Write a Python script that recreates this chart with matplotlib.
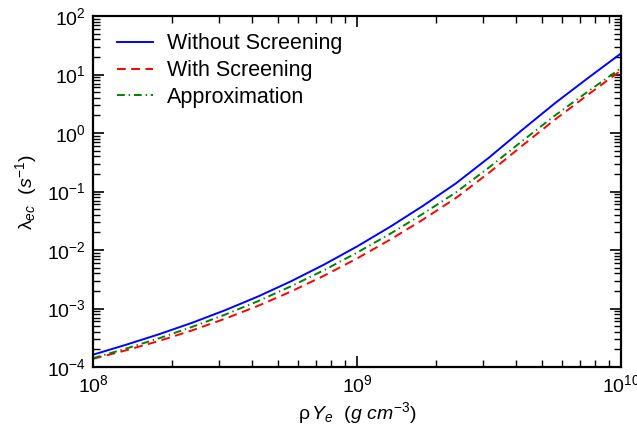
import numpy as np
import matplotlib.pyplot as plt
from matplotlib.ticker import LogLocator, NullFormatter

plt.rcParams['font.family'] = ['Liberation Sans', 'DejaVu Sans']
plt.rcParams['mathtext.fontset'] = 'custom'
plt.rcParams['mathtext.rm'] = 'Liberation Sans'
plt.rcParams['mathtext.it'] = 'Liberation Sans:italic'

# log10 of density rho*Ye (g cm^-3)
log_rho = [8.0, 8.125, 8.25, 8.375, 8.5, 8.625, 8.75, 8.875, 9.0,
           9.125, 9.25, 9.375, 9.5, 9.625, 9.75, 9.875, 10.0]
# log10 of electron capture rate (s^-1)
log_no_screen = [-3.79, -3.62, -3.44, -3.245, -3.03, -2.795, -2.535, -2.25, -1.94,
                 -1.605, -1.245, -0.86, -0.42, 0.05, 0.51, 0.94, 1.36]
log_screen = [-3.86, -3.715, -3.555, -3.375, -3.175, -2.955, -2.71, -2.44, -2.145,
              -1.825, -1.48, -1.11, -0.68, -0.22, 0.23, 0.655, 1.07]
log_approx = [-3.85, -3.685, -3.51, -3.315, -3.105, -2.875, -2.62, -2.345, -2.045,
              -1.725, -1.38, -1.015, -0.59, -0.14, 0.30, 0.71, 1.11]

rho = 10 ** np.array(log_rho)
lam_no = 10 ** np.array(log_no_screen)
lam_scr = 10 ** np.array(log_screen)
lam_app = 10 ** np.array(log_approx)

fig = plt.figure(figsize=(6.37, 4.33), dpi=100)
ax = fig.add_axes([93 / 637, 1 - 367 / 433, 528 / 637, 351 / 433])

ax.loglog(rho, lam_no, color='blue', lw=1.4, label='Without Screening')
ax.loglog(rho, lam_scr, color='red', lw=1.4, ls=(0, (4.5, 2.8)), label='With Screening')
ax.loglog(rho, lam_app, color='green', lw=1.4, ls=(0, (4, 2, 0.7, 2)), label='Approximation')

ax.set_xlim(1e8, 1e10)
ax.set_ylim(1e-4, 1e2)
ax.yaxis.set_major_locator(LogLocator(base=10, numticks=10))
ax.yaxis.set_minor_locator(LogLocator(base=10, subs=np.arange(2, 10), numticks=10))
ax.yaxis.set_minor_formatter(NullFormatter())
ax.xaxis.set_minor_formatter(NullFormatter())

ax.tick_params(which='both', direction='in', top=True, right=True, labelsize=14)
ax.tick_params(which='major', length=8, width=1.2, pad=5)
ax.tick_params(which='minor', length=5, width=1.0)
for s in ax.spines.values():
    s.set_linewidth(1.6)

ax.set_xlabel(r'$\mathrm{\rho}\,Y_e$  $(g\ cm^{-3})$', fontsize=14, labelpad=3)
ax.set_ylabel(r'$\mathrm{\lambda}_{ec}$  $(s^{-1})$', fontsize=14, labelpad=6)

ax.legend(loc='upper left', bbox_to_anchor=(0.03, 0.975), frameon=False,
          fontsize=15.5, handlelength=1.65, borderpad=0.4, borderaxespad=0,
          labelspacing=0.27, handletextpad=0.65)

fig.savefig('out.png', dpi=100)
